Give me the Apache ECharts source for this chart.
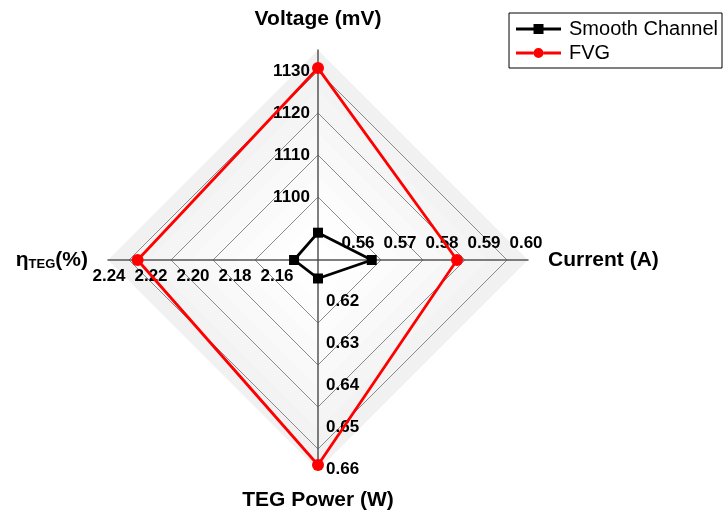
<!DOCTYPE html>
<html><head><meta charset="utf-8">
<script src="https://cdn.jsdelivr.net/npm/echarts@6/dist/echarts.min.js"></script>
<style>html,body{margin:0;padding:0;background:#fff}#c{width:725px;height:518px}</style>
</head><body><div id="c"></div>
<script>
// ---- data ----
const indicatorNames = ['Voltage (mV)', 'ηTEG(%)', 'TEG Power (W)', 'Current (A)'];
const indicatorMin = [1085, 2.15, 0.615, 0.555];
const indicatorMax = [1135, 2.25, 0.665, 0.605];
const seriesNames = ['Smooth Channel', 'FVG'];
const smoothChannel = [1091.5, 2.1614, 0.6194, 0.5678];
const fvg = [1130.7, 2.2359, 0.6638, 0.5881];
const voltageTicks = ['1100', '1110', '1120', '1130'];
const etaTicks = ['2.16', '2.18', '2.20', '2.22', '2.24'];
const powerTicks = ['0.62', '0.63', '0.64', '0.65', '0.66'];
const currentTicks = ['0.56', '0.57', '0.58', '0.59', '0.60'];

// ---- styles ----
const FONT = '"Liberation Sans", Arial, sans-serif';
const NONE = 'rgba(0,0,0,0)';
const RING = '#8a8a8a';
const ringColors = [NONE, NONE, NONE, RING, NONE, RING, NONE, RING, NONE, RING, NONE];
const bandColors = ['#ffffff', '#fefefe', '#fdfdfd', '#fcfcfc', '#fafafa', '#f9f9f9', '#f7f7f7', '#f5f5f5', '#f3f3f3', '#f1f1f1'];

function tickStyleKey(t) {
  if (voltageTicks.indexOf(t) >= 0) return 'v';
  if (etaTicks.indexOf(t) >= 0) return 'e';
  if (powerTicks.indexOf(t) >= 0) return 'p';
  if (currentTicks.indexOf(t) >= 0) return 'c';
  return null;
}
const lblBase = { fontFamily: FONT, fontSize: 17, fontWeight: 'bold', color: '#000' };

const chart = echarts.init(document.getElementById('c'), null, { renderer: 'canvas' });
chart.setOption({
  animation: false,
  backgroundColor: '#fff',
  legend: {
    orient: 'vertical', right: 3, top: 13,
    padding: [6, 4, 5, 7], itemGap: 4,
    borderColor: '#000', borderWidth: 1,
    itemWidth: 45, itemHeight: 10,
    textStyle: { fontFamily: FONT, fontSize: 20, color: '#000', padding: [0, 0, 0, 3] },
    data: [
      { name: seriesNames[0], icon: 'path://M0,3.5h17.5v3h-17.5z M27.5,3.5h17.5v3h-17.5z M17.5,0h10v10h-10z' },
      { name: seriesNames[1], icon: 'path://M0,3.5h17.5v3h-17.5z M27.5,3.5h17.5v3h-17.5z M17.5,5a5,5 0 1,1 10,0a5,5 0 1,1 -10,0z' }
    ]
  },
  radar: {
    center: [318, 260], radius: 210, startAngle: 90, splitNumber: 10, shape: 'polygon',
    indicator: indicatorNames.map((n, i) => ({ name: n, min: indicatorMin[i], max: indicatorMax[i] })),
    nameGap: 20,
    axisName: {
      color: '#000', fontFamily: FONT, fontSize: 21, fontWeight: 'bold',
      formatter: function (name) {
        if (name.indexOf('TEG(') >= 0) return '{b|η}{s|TEG}{b|(%)}';
        return name;
      },
      rich: {
        b: { fontFamily: FONT, fontSize: 21, fontWeight: 'bold', color: '#000' },
        s: { fontFamily: FONT, fontSize: 13, fontWeight: 'bold', color: '#000', verticalAlign: 'bottom', padding: [8, 0, 0, 0] }
      }
    },
    axisLine: { show: true, lineStyle: { color: '#555', width: 1.5 } },
    axisTick: { show: false },
    splitLine: { show: true, lineStyle: { color: ringColors, width: 1 } },
    splitArea: { show: true, areaStyle: { color: bandColors } },
    axisLabel: {
      show: true, color: '#000', fontFamily: FONT, fontSize: 17, fontWeight: 'bold',
      formatter: function (v) {
        const t = v > 100 ? String(Math.round(v)) : Number(v).toFixed(2);
        if (Math.abs(parseFloat(t) - v) > 1e-6) return '';
        const k = tickStyleKey(t);
        return k ? '{' + k + '|' + t + '}' : '';
      },
      rich: {
        v: Object.assign({}, lblBase, { padding: [0, 0, 0, 0] }),
        e: Object.assign({}, lblBase, { padding: [0, 40, 0, 0] }),
        p: Object.assign({}, lblBase, { padding: [40, 0, 0, 0] }),
        c: Object.assign({}, lblBase, { padding: [0, 0, 0, 38] })
      }
    }
  },
  series: [
    {
      type: 'radar', name: seriesNames[0], z: 3,
      symbol: 'rect', symbolSize: 10,
      itemStyle: { color: '#000' },
      lineStyle: { color: '#000', width: 2.8 },
      data: [{ name: seriesNames[0], value: smoothChannel }]
    },
    {
      type: 'radar', name: seriesNames[1], z: 4,
      symbol: 'circle', symbolSize: 12,
      itemStyle: { color: '#ff0000' },
      lineStyle: { color: '#ff0000', width: 2.8 },
      data: [{ name: seriesNames[1], value: fvg }]
    }
  ]
});
</script>
</body></html>
